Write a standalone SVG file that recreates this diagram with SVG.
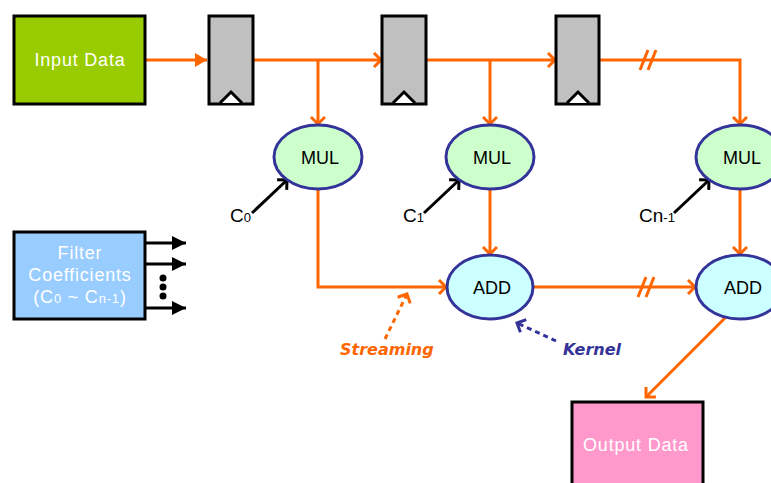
<svg xmlns="http://www.w3.org/2000/svg" width="771" height="483" viewBox="0 0 771 483">
<style>
.box{stroke:#000;stroke-width:3}
.reg{fill:#C0C0C0;stroke:#000;stroke-width:3}
.clk{fill:#fff;stroke:#000;stroke-width:3;stroke-linejoin:miter}
.wt{fill:#fff;font-family:"Liberation Sans",Arial,sans-serif;font-size:18px;letter-spacing:0.8px;text-anchor:middle}
.op{font-family:"Liberation Sans",Arial,sans-serif;font-size:18px;text-anchor:middle;fill:#000}
.mul{fill:#CCFFCC;stroke:#333399;stroke-width:3}
.add{fill:#CCFFFF;stroke:#333399;stroke-width:3}
.w{fill:none;stroke:#FF6600;stroke-width:3}
.k{fill:none;stroke:#000;stroke-width:3}
.lbl{font-family:"Liberation Sans",Arial,sans-serif;font-size:19px;fill:#000}
.note{font-family:"Comic Sans MS","DejaVu Sans",sans-serif;font-style:italic;font-weight:bold;font-size:16px}
</style>
<defs>
<marker id="ao" markerUnits="userSpaceOnUse" markerWidth="20" markerHeight="20" refX="10" refY="8" orient="auto">
<path d="M3,1 L10,8 L3,15" fill="none" stroke="#FF6600" stroke-width="3"/>
</marker>
<marker id="aof" markerUnits="userSpaceOnUse" markerWidth="20" markerHeight="20" refX="12" refY="8" orient="auto">
<path d="M0,1 L12,8 L0,15 Z" fill="#FF6600"/>
</marker>
<marker id="ak" markerUnits="userSpaceOnUse" markerWidth="20" markerHeight="20" refX="10" refY="8" orient="auto">
<path d="M3,1 L10,8 L3,15" fill="none" stroke="#000" stroke-width="3"/>
</marker>
<marker id="akf" markerUnits="userSpaceOnUse" markerWidth="20" markerHeight="20" refX="14" refY="8" orient="auto">
<path d="M0,1 L14,8 L0,15 Z" fill="#000"/>
</marker>
<marker id="an" markerUnits="userSpaceOnUse" markerWidth="20" markerHeight="20" refX="10" refY="8" orient="auto">
<path d="M3,1 L10,8 L3,15" fill="none" stroke="#333399" stroke-width="3"/>
</marker>
</defs>

<g id="connectors">
<line class="w" x1="145" y1="60" x2="207" y2="60" marker-end="url(#aof)"/>
<line class="w" x1="253" y1="60" x2="381" y2="60" marker-end="url(#ao)"/>
<line class="w" x1="426" y1="60" x2="555" y2="60" marker-end="url(#ao)"/>
<polyline class="w" points="599,60 740,60 740,124" marker-end="url(#ao)"/>
<line class="w" x1="318" y1="60" x2="318" y2="124" marker-end="url(#ao)"/>
<line class="w" x1="490" y1="60" x2="490" y2="124" marker-end="url(#ao)"/>
<line class="w" x1="640" y1="70" x2="648" y2="50"/>
<line class="w" x1="648" y1="70" x2="656" y2="50"/>
<polyline class="w" points="318,190 318,287 446,287" marker-end="url(#ao)"/>
<line class="w" x1="490" y1="190" x2="490" y2="254" marker-end="url(#ao)"/>
<line class="w" x1="740" y1="190" x2="740" y2="254" marker-end="url(#ao)"/>
<line class="w" x1="534" y1="287" x2="695" y2="287" marker-end="url(#ao)"/>
<line class="w" x1="638" y1="297" x2="646" y2="277"/>
<line class="w" x1="646" y1="297" x2="654" y2="277"/>
<line class="w" x1="725" y1="318" x2="646" y2="397" marker-end="url(#ao)"/>
<line class="k" x1="252" y1="213" x2="287" y2="180" marker-end="url(#ak)"/>
<line class="k" x1="424" y1="213" x2="459" y2="180" marker-end="url(#ak)"/>
<line class="k" x1="674" y1="213" x2="709" y2="180" marker-end="url(#ak)"/>
<line class="k" x1="145" y1="243" x2="186" y2="243" marker-end="url(#akf)"/>
<line class="k" x1="145" y1="264" x2="186" y2="264" marker-end="url(#akf)"/>
<line class="k" x1="145" y1="308" x2="186" y2="308" marker-end="url(#akf)"/>
<line x1="385" y1="339" x2="407" y2="294" stroke="#FF6600" stroke-width="3" stroke-dasharray="5,4" marker-end="url(#ao)"/>
<line x1="556" y1="341" x2="517" y2="323" stroke="#333399" stroke-width="3" stroke-dasharray="5,4" marker-end="url(#an)"/>
</g>

<g id="input-data">
<rect class="box" x="14" y="16" width="131" height="88" fill="#99CC00"/>
<text class="wt" x="80" y="66">Input Data</text>
</g>

<g id="reg1">
<rect class="reg" x="209" y="16" width="44" height="88"/>
<polyline class="clk" points="220,103 231,92 242,103"/>
</g>
<g id="reg2">
<rect class="reg" x="382" y="16" width="44" height="88"/>
<polyline class="clk" points="393,103 404,92 415,103"/>
</g>
<g id="reg3">
<rect class="reg" x="556" y="16" width="43" height="88"/>
<polyline class="clk" points="567,103 578,92 589,103"/>
</g>

<g id="mul0">
<ellipse class="mul" cx="318" cy="157" rx="44" ry="32"/>
<text class="op" x="320" y="164">MUL</text>
</g>
<g id="mul1">
<ellipse class="mul" cx="490" cy="157" rx="44" ry="32"/>
<text class="op" x="492" y="164">MUL</text>
</g>
<g id="mul2">
<ellipse class="mul" cx="740" cy="157" rx="44" ry="32"/>
<text class="op" x="742" y="164">MUL</text>
</g>

<g id="add1">
<ellipse class="add" cx="490" cy="287" rx="43" ry="32"/>
<text class="op" x="492" y="294">ADD</text>
</g>
<g id="add2">
<ellipse class="add" cx="740" cy="287" rx="44" ry="32"/>
<text class="op" x="743" y="294">ADD</text>
</g>

<g id="c-labels">
<text class="lbl" x="230" y="222">C<tspan font-size="13">0</tspan></text>
<text class="lbl" x="403" y="222">C<tspan font-size="13">1</tspan></text>
<text class="lbl" x="639" y="222">Cn<tspan font-size="13">-1</tspan></text>
</g>

<g id="filter-coefficients">
<rect class="box" x="14" y="232" width="131" height="87" fill="#99CCFF"/>
<text class="wt" x="80" y="259">Filter</text>
<text class="wt" x="80" y="281">Coefficients</text>
<text class="wt" x="80" y="303">(C<tspan font-size="13">0</tspan>  ~ C<tspan font-size="13">n-1</tspan>)</text>
<circle cx="163" cy="278" r="3.5" fill="#000"/>
<circle cx="163" cy="287" r="3.5" fill="#000"/>
<circle cx="163" cy="296" r="3.5" fill="#000"/>
</g>

<g id="streaming">
<text class="note" x="340" y="355" fill="#FF6600">Streaming</text>
</g>
<g id="kernel">
<text class="note" x="563" y="355" fill="#333399">Kernel</text>
</g>

<g id="output-data">
<rect class="box" x="572" y="402" width="131" height="90" fill="#FF99CC"/>
<text class="wt" x="636" y="451">Output Data</text>
</g>
</svg>
